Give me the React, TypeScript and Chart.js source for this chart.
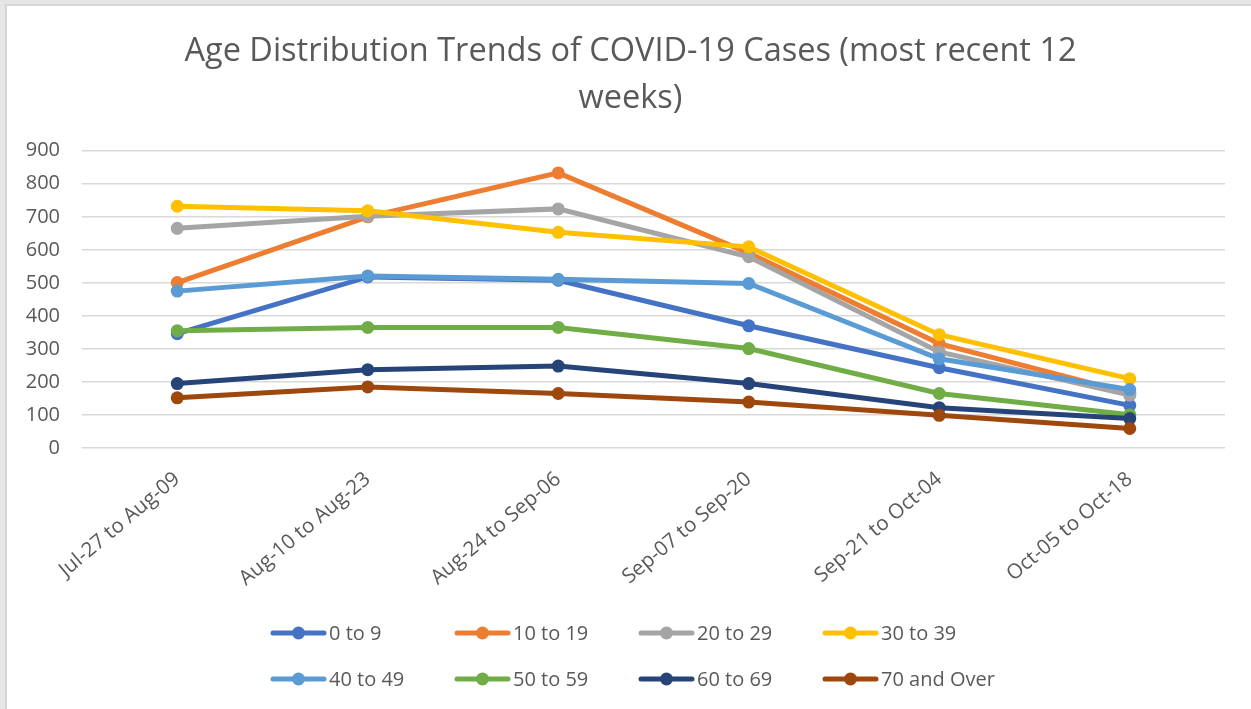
import React, { useEffect, useRef } from "react";
import { Chart, registerables } from "chart.js";

Chart.register(...registerables);

const FONT = "'Open Sans', 'Noto Sans', sans-serif";
const TEXT_COLOR = "#595959";

const titleLines = ["Age Distribution Trends of COVID-19 Cases (most recent 12", "weeks)"];

const categories = [
  "Jul-27 to Aug-09",
  "Aug-10 to Aug-23",
  "Aug-24 to Sep-06",
  "Sep-07 to Sep-20",
  "Sep-21 to Oct-04",
  "Oct-05 to Oct-18",
];

const seriesLabels = [
  "0 to 9",
  "10 to 19",
  "20 to 29",
  "30 to 39",
  "40 to 49",
  "50 to 59",
  "60 to 69",
  "70 and Over",
];

const seriesColors = [
  "#4472C4",
  "#ED7D31",
  "#A5A5A5",
  "#FFC000",
  "#5B9BD5",
  "#70AD47",
  "#264478",
  "#9E480E",
];

const age0to9 = [346, 518, 508, 370, 243, 129];
const age10to19 = [501, 700, 833, 590, 316, 166];
const age20to29 = [665, 702, 724, 579, 291, 160];
const age30to39 = [732, 718, 653, 609, 343, 210];
const age40to49 = [475, 521, 511, 498, 270, 177];
const age50to59 = [355, 365, 365, 301, 165, 101];
const age60to69 = [195, 237, 248, 195, 122, 89];
const age70plus = [152, 185, 165, 139, 99, 59];

const seriesValues = [
  age0to9,
  age10to19,
  age20to29,
  age30to39,
  age40to49,
  age50to59,
  age60to69,
  age70plus,
];

const yMin = 0;
const yMax = 900;
const yStep = 100;

const framePlugin = {
  id: "frame",
  beforeDraw(chart: any) {
    const { ctx, width, height } = chart;
    ctx.save();
    ctx.fillStyle = "#ffffff";
    ctx.fillRect(0, 0, width, height);
    ctx.fillStyle = "#e6e6e6";
    ctx.fillRect(0, 0, width, 5);
    ctx.fillRect(0, 0, 5, height);
    ctx.fillStyle = "#d6d6d6";
    ctx.fillRect(5, 4, width - 5, 2);
    ctx.fillRect(5, 4, 2, height - 4);
    ctx.restore();
  },
};

// centre the title on the visible frame (x 10..1251)
const titleCenterPlugin = {
  id: "titleCenter",
  afterLayout(chart: any) {
    const t = chart.titleBlock;
    if (t) {
      t.left = 10;
      t.right = chart.width;
    }
  },
};

const legendPlugin = {
  id: "customLegend",
  afterDraw(chart: any) {
    const ctx = chart.ctx;
    const cols = 4;
    const colStart = 270;
    const colStep = 184;
    const rowY = [633, 679];
    chart.data.datasets.forEach((ds: any, i: number) => {
      const r = Math.floor(i / cols);
      const c = i % cols;
      const x = colStart + c * colStep;
      const y = rowY[r];
      ctx.save();
      ctx.strokeStyle = ds.borderColor;
      ctx.lineWidth = 5;
      ctx.lineCap = "round";
      ctx.beginPath();
      ctx.moveTo(x + 3, y);
      ctx.lineTo(x + 54, y);
      ctx.stroke();
      ctx.fillStyle = ds.borderColor;
      ctx.beginPath();
      ctx.arc(x + 28.5, y, 6.5, 0, Math.PI * 2);
      ctx.fill();
      ctx.fillStyle = TEXT_COLOR;
      ctx.font = `20px ${FONT}`;
      ctx.textBaseline = "middle";
      ctx.textAlign = "left";
      ctx.fillText(ds.label, x + 59, y + 1);
      ctx.restore();
    });
  },
};

export default function App() {
  const canvasRef = useRef<HTMLCanvasElement | null>(null);

  useEffect(() => {
    document.body.style.margin = "0";
    const canvas = canvasRef.current;
    if (!canvas) return;
    const n = seriesLabels.length;
    const chart = new Chart(canvas, {
      type: "line",
      data: {
        labels: categories,
        datasets: seriesValues.map((vals, i) => ({
          label: seriesLabels[i],
          data: vals,
          borderColor: seriesColors[i],
          backgroundColor: seriesColors[i],
          pointBackgroundColor: seriesColors[i],
          pointBorderColor: seriesColors[i],
          pointBorderWidth: 0,
          pointRadius: 6.5,
          borderWidth: 5,
          tension: 0,
          fill: false,
          order: n - i,
        })),
      },
      options: {
        responsive: false,
        animation: false,
        devicePixelRatio: 1,
        layout: { padding: { left: 0, right: 26, top: 0, bottom: 111 } },
        plugins: {
          legend: { display: false },
          tooltip: { enabled: false },
          title: {
            display: true,
            text: titleLines,
            color: TEXT_COLOR,
            font: { family: FONT, size: 32.5, weight: "normal", lineHeight: 1.45 },
            padding: { top: 28, bottom: 28.5 },
          },
        },
        scales: {
          x: {
            offset: true,
            grid: { display: false, drawTicks: false },
            border: { display: false },
            ticks: {
              color: TEXT_COLOR,
              font: { family: FONT, size: 20.5 },
              minRotation: 40,
              maxRotation: 40,
              autoSkip: false,
              padding: 19,
            },
            afterFit: (s: any) => {
              s.height = 150;
            },
          },
          y: {
            min: yMin,
            max: yMax,
            ticks: {
              stepSize: yStep,
              color: TEXT_COLOR,
              font: { family: FONT, size: 20 },
              padding: 22,
            },
            grid: { color: "#d9d9d9", lineWidth: 1.5, drawTicks: false },
            border: { display: false },
            afterFit: (s: any) => {
              s.width = 82;
            },
          },
        },
      },
      plugins: [framePlugin, titleCenterPlugin, legendPlugin],
    } as any);
    return () => chart.destroy();
  }, []);

  return (
    <div style={{ width: 1251, height: 709 }}>
      <canvas ref={canvasRef} width={1251} height={709} style={{ display: "block", width: 1251, height: 709 }} />
    </div>
  );
}
